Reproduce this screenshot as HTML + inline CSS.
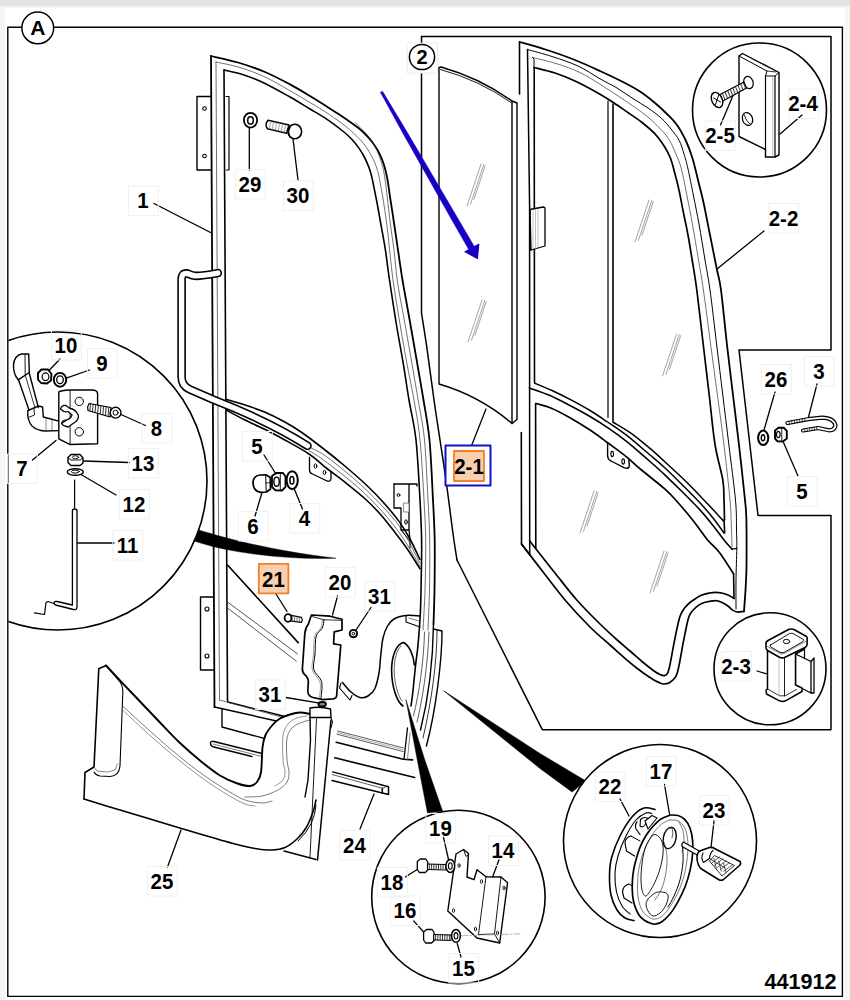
<!DOCTYPE html>
<html><head><meta charset="utf-8"><title>441912</title>
<style>
html,body{margin:0;padding:0;background:#fff;}
body{width:850px;height:1000px;overflow:hidden;font-family:"Liberation Sans",sans-serif;}
svg{display:block;}
svg text{font-family:"Liberation Sans",sans-serif;font-weight:bold;fill:#000;}
</style></head><body>
<svg width="850" height="1000" viewBox="0 0 850 1000" stroke-linecap="round" stroke-linejoin="round">
<rect x="0" y="0" width="850" height="1000" fill="#fff"/>
<rect x="0" y="0" width="850" height="6" fill="#e4e4e4"/>
<rect x="0" y="6" width="850" height="1.5" fill="#efefef"/>
<rect x="0" y="7.5" width="5.3" height="993" fill="#f5f5f5"/>
<rect x="844.5" y="7.5" width="6" height="993" fill="#f5f5f5"/>
<rect x="7.8" y="27.3" width="834.6" height="969.1" fill="none" stroke="#000" stroke-width="1.4"/>
<path d="M421.5,36.6 L831.0,36.6 L831.0,350.0 L739.0,350.0 L758.0,515.5 L831.0,515.5 L831.0,729.7 L542.3,729.7 L457.0,560.0" fill="none" stroke="#000" stroke-width="1.5" />
<path d="M457.0,560.0 C456.2,555.0 454.3,543.3 452.5,530.0 C450.7,516.7 448.1,495.0 446.0,480.0 C443.9,465.0 442.0,453.3 440.0,440.0 C438.0,426.7 436.2,415.8 434.0,400.0 C431.8,384.2 428.6,359.5 426.5,345.0 C424.4,330.5 422.3,318.3 421.5,313.0 L421.5,36.6" fill="none" stroke="#000" stroke-width="1.5" />
<path d="M211.0,56.0 C215.5,57.1 229.0,59.8 238.0,62.5 C247.0,65.2 256.3,68.3 265.0,72.0 C273.7,75.7 282.5,80.4 290.0,84.4 C297.5,88.4 304.0,92.4 310.0,96.0 C316.0,99.6 321.0,102.8 326.0,106.0 C331.0,109.2 335.5,112.0 340.0,115.0 C344.5,118.0 349.3,121.3 353.0,124.0 C356.7,126.7 359.3,128.6 362.0,131.0 C364.7,133.4 367.0,135.9 369.2,138.4 C371.4,140.9 373.2,143.3 375.0,146.0 C376.8,148.7 378.5,151.4 380.0,154.6 C381.5,157.8 382.8,161.1 384.0,165.0 C385.2,168.9 386.1,172.2 387.2,178.0 C388.3,183.8 389.3,192.2 390.5,200.0 C391.7,207.8 393.1,216.7 394.3,225.0 C395.6,233.3 396.6,240.8 398.0,250.0 C399.4,259.2 400.5,268.0 402.5,280.0 C404.5,292.0 407.6,308.3 410.0,322.0 C412.4,335.7 414.8,349.0 417.0,362.0 C419.2,375.0 421.4,387.0 423.5,400.0 C425.6,413.0 427.9,423.3 429.5,440.0 C431.1,456.7 432.1,483.3 433.0,500.0 C433.9,516.7 434.4,525.0 434.7,540.0 C434.9,555.0 434.7,576.0 434.5,590.0 C434.3,604.0 433.7,618.3 433.5,624.0" fill="none" stroke="#000" stroke-width="1.8" />
<path d="M211.0,56.0 L214.5,707.0" fill="none" stroke="#000" stroke-width="1.8" />
<path d="M216.0,62.0 C220.0,62.9 231.8,65.0 240.0,67.5 C248.2,70.0 256.7,73.1 265.0,77.0 C273.3,80.9 282.5,86.5 290.0,90.7 C297.5,95.0 304.0,98.9 310.0,102.5 C316.0,106.1 321.0,109.0 326.0,112.3 C331.0,115.5 336.1,119.2 340.0,122.0 C343.9,124.8 346.6,127.0 349.4,129.4 C352.2,131.8 354.6,134.1 357.0,136.5 C359.4,138.9 361.8,141.3 363.8,143.8 C365.8,146.3 367.4,148.8 369.0,151.5 C370.6,154.2 372.3,156.8 373.7,160.0 C375.1,163.2 376.4,166.9 377.5,170.5 C378.6,174.1 378.9,175.8 380.0,181.6 C381.1,187.3 382.8,196.9 384.0,205.0 C385.2,213.1 386.0,217.5 387.5,230.0 C389.0,242.5 390.9,264.3 393.0,280.0 C395.1,295.7 397.7,310.0 400.0,324.0 C402.3,338.0 404.7,351.3 407.0,364.0 C409.3,376.7 411.8,387.3 414.0,400.0 C416.2,412.7 418.3,423.3 420.0,440.0 C421.7,456.7 423.1,483.3 424.0,500.0 C424.9,516.7 425.5,525.0 425.7,540.0 C425.9,555.0 425.4,575.0 425.0,590.0 C424.6,605.0 423.3,623.3 423.0,630.0" fill="none" stroke="#333" stroke-width="0.7" />
<path d="M216.0,62.0 L219.5,700.0" fill="none" stroke="#333" stroke-width="0.7" />
<path d="M355.0,122.5 C356.2,123.7 359.7,127.0 362.0,129.4 C364.3,131.8 366.9,134.3 369.0,137.0 C371.1,139.7 372.9,142.3 374.6,145.6 C376.4,148.9 378.0,152.8 379.5,157.0 C381.0,161.2 382.4,164.5 383.6,170.8 C384.9,177.1 385.9,186.0 387.0,195.0 C388.1,204.0 389.3,215.8 390.5,225.0 C391.7,234.2 392.8,240.5 394.0,250.0 C395.2,259.5 395.7,269.7 397.5,282.0 C399.3,294.3 402.6,310.3 405.0,324.0 C407.4,337.7 409.8,351.0 412.0,364.0 C414.2,377.0 416.4,389.3 418.5,402.0 C420.6,414.7 422.9,423.7 424.5,440.0 C426.1,456.3 427.1,483.3 428.0,500.0 C428.9,516.7 429.4,525.0 429.7,540.0 C429.9,555.0 429.8,575.0 429.5,590.0 C429.2,605.0 428.2,623.3 428.0,630.0" fill="none" stroke="#333" stroke-width="0.7" />
<path d="M224.0,70.0 C227.3,70.8 237.3,72.8 244.0,75.0 C250.7,77.2 256.3,79.3 264.0,83.0 C271.7,86.7 282.3,92.7 290.0,97.0 C297.7,101.3 304.0,105.4 310.0,109.0 C316.0,112.6 320.3,114.8 326.0,118.6 C331.7,122.4 339.7,128.5 344.0,132.0 C348.3,135.5 349.6,136.9 352.0,139.5 C354.4,142.1 356.5,144.7 358.4,147.4 C360.3,150.1 362.0,152.8 363.5,155.5 C365.0,158.2 366.2,160.8 367.4,163.6 C368.6,166.3 369.6,169.0 370.5,172.0 C371.4,175.0 371.8,176.9 372.8,181.6 C373.8,186.3 375.1,192.8 376.5,200.0 C377.9,207.2 379.5,216.7 381.0,225.0 C382.5,233.3 384.0,240.8 385.4,250.0 C386.8,259.2 387.7,268.0 389.5,280.0 C391.3,292.0 393.8,308.3 396.0,322.0 C398.2,335.7 400.8,349.0 403.0,362.0 C405.2,375.0 406.8,387.0 409.0,400.0 C411.2,413.0 414.2,423.3 416.0,440.0 C417.8,456.7 419.1,483.3 420.0,500.0 C420.9,516.7 421.4,526.7 421.6,540.0 C421.8,553.3 421.4,568.0 421.2,580.0 C421.0,592.0 420.9,601.2 420.4,612.0 C419.9,622.8 418.8,636.2 418.0,645.0 C417.2,653.8 416.5,656.7 415.6,665.0 C414.7,673.3 413.3,688.2 412.5,695.0 C411.7,701.8 411.2,704.2 411.0,706.0" fill="none" stroke="#000" stroke-width="1.6" />
<path d="M224.0,70.0 L227.5,700.0" fill="none" stroke="#000" stroke-width="1.6" />
<path d="M211.0,96.5 L197.0,96.5 L197.0,170.0 L211.5,170.0" fill="none" stroke="#000" stroke-width="1.4" />
<path d="M226.0,96.5 L229.0,96.5 L229.0,170.0 L226.5,170.0" fill="none" stroke="#000" stroke-width="1.2" />
<circle cx="204.5" cy="108.5" r="1.8" fill="none" stroke="#000" stroke-width="1.1"/>
<circle cx="204.5" cy="156.0" r="1.8" fill="none" stroke="#000" stroke-width="1.1"/>
<path d="M214.0,597.0 L200.5,597.0 L200.5,670.0 L214.3,670.0" fill="none" stroke="#000" stroke-width="1.4" />
<circle cx="207.0" cy="609.0" r="2.0" fill="none" stroke="#000" stroke-width="1.1"/>
<circle cx="207.0" cy="656.0" r="2.0" fill="none" stroke="#000" stroke-width="1.1"/>
<path d="M226.5,399.5 C229.6,400.4 238.8,402.9 245.0,405.0 C251.2,407.1 257.7,409.1 264.0,411.8 C270.3,414.5 276.7,417.6 283.0,421.0 C289.3,424.4 294.4,427.3 301.8,432.5 C309.2,437.7 320.2,446.2 327.6,452.0 C335.0,457.8 339.7,461.7 346.0,467.0 C352.3,472.3 359.1,478.2 365.3,484.0 C371.5,489.8 377.4,495.7 383.0,502.0 C388.6,508.3 394.7,515.4 399.2,521.6 C403.7,527.8 406.6,532.7 410.0,539.0 C413.4,545.3 418.2,555.9 419.9,559.3" fill="none" stroke="#000" stroke-width="1.6" />
<path d="M227.0,410.5 C230.0,412.1 238.8,416.9 245.0,420.0 C251.2,423.1 257.7,425.8 264.0,429.0 C270.3,432.2 275.5,434.8 283.0,439.0 C290.5,443.2 301.6,449.0 309.0,454.0 C316.4,459.0 321.4,464.2 327.6,469.0 C333.8,473.8 339.7,478.0 346.0,483.0 C352.3,488.0 359.5,493.7 365.3,499.0 C371.1,504.3 376.0,509.3 381.0,515.0 C386.0,520.7 390.9,527.2 395.4,533.0 C399.9,538.8 403.9,544.0 408.0,550.0 C412.1,556.0 417.9,565.6 419.9,568.7" fill="none" stroke="#000" stroke-width="1.6" />
<path d="M309.0,447.0 C312.1,448.8 318.2,450.5 327.6,457.5 C337.0,464.5 353.4,477.6 365.3,489.0 C377.2,500.4 390.1,513.7 399.2,526.0 C408.3,538.3 416.4,556.8 419.9,563.0" fill="none" stroke="#333" stroke-width="0.7" />
<path d="M309.0,450.5 C312.1,452.6 318.2,455.8 327.6,463.0 C337.0,470.2 353.7,482.9 365.3,494.0 C376.9,505.1 387.9,517.5 397.0,529.5 C406.1,541.5 416.1,559.9 419.9,566.0" fill="none" stroke="#333" stroke-width="0.7" />
<path d="M217.8,273.1 C210,274.5 200,276.3 194.7,275.8 C190.5,275.4 189,273.5 186.5,273.4 Q181.6,273.4 181.6,279 L181.6,377 Q181.6,386 190,389.5 L213,399.5 C245,412 275,425 307.5,445.8" fill="none" stroke="#000" stroke-width="8.6" stroke-linecap="round"/>
<path d="M217.8,273.1 C210,274.5 200,276.3 194.7,275.8 C190.5,275.4 189,273.5 186.5,273.4 Q181.6,273.4 181.6,279 L181.6,377 Q181.6,386 190,389.5 L213,399.5 C245,412 275,425 307.5,445.8" fill="none" stroke="#fff" stroke-width="5.4" stroke-linecap="round"/>
<path d="M309.5,457.5 L309.5,470 Q309.5,473 312.5,474 L327,481 Q331,482 331,478 L331,472" fill="none" stroke="#000" stroke-width="1.3" />
<ellipse cx="315.5" cy="466.0" rx="1.3" ry="2.2" fill="none" stroke="#000" stroke-width="1"/>
<ellipse cx="324.5" cy="472.5" rx="1.3" ry="2.2" fill="none" stroke="#000" stroke-width="1"/>
<path d="M394.0,484.0 L417.0,484.0 L417.0,486.0" fill="none" stroke="#000" stroke-width="1.3" />
<path d="M394.0,484.0 L394.0,508.0 L401.0,508.0 L401.0,530.0 L409.0,530.0 L409.0,484.5" fill="none" stroke="#000" stroke-width="1.3" />
<path d="M409.0,530.0 L410.0,539.0" fill="none" stroke="#000" stroke-width="1.2" />
<path d="M401.0,530.0 L410.0,541.0 L410.0,548.0" fill="none" stroke="#000" stroke-width="1.0" />
<circle cx="398.5" cy="495.0" r="1.4" fill="none" stroke="#000" stroke-width="1"/>
<ellipse cx="406.0" cy="522.0" rx="1.3" ry="2.2" fill="none" stroke="#000" stroke-width="1"/>
<rect x="404" y="503" width="5" height="9" fill="#fff" stroke="#555" stroke-width="0.7"/>
<clipPath id="clipL"><rect x="8.4" y="300" width="220" height="360"/></clipPath>
<circle cx="58" cy="481" r="149" fill="none" stroke="#000" stroke-width="1.6" clip-path="url(#clipL)"/>
<path d="M199,530 C225,538 270,550.5 336,558.2 C290,560 230,553.5 194,541 Z" fill="#000" stroke="#000" stroke-width="0.4" />
<ellipse cx="250.5" cy="120.2" rx="6.6" ry="7.4" fill="none" stroke="#000" stroke-width="1.8"/>
<ellipse cx="250.5" cy="120.4" rx="2.8" ry="3.7" fill="none" stroke="#000" stroke-width="1.5"/>
<line x1="249.3" y1="128.5" x2="249.3" y2="170.0" stroke="#000" stroke-width="1.3"/>
<path d="M268,120.3 L289,125 L286.5,133.2 L267.5,128.8 Q264.3,124.5 268,120.3 Z" fill="#fff" stroke="#000" stroke-width="1.5" />
<line x1="270.5" y1="121.6" x2="269.3" y2="128.6" stroke="#999" stroke-width="0.9"/>
<line x1="273.5" y1="122.3" x2="272.3" y2="129.3" stroke="#999" stroke-width="0.9"/>
<line x1="276.5" y1="123.0" x2="275.3" y2="130.0" stroke="#999" stroke-width="0.9"/>
<line x1="279.5" y1="123.6" x2="278.3" y2="130.7" stroke="#999" stroke-width="0.9"/>
<line x1="282.5" y1="124.3" x2="281.3" y2="131.4" stroke="#999" stroke-width="0.9"/>
<line x1="285.5" y1="125.0" x2="284.3" y2="132.1" stroke="#999" stroke-width="0.9"/>
<ellipse cx="294.8" cy="131.5" rx="6.8" ry="7.3" fill="#fff" stroke="#000" stroke-width="1.6"/>
<path d="M290.5,126 Q287.3,131 289.5,137" fill="none" stroke="#000" stroke-width="1.0" />
<line x1="293.0" y1="139.0" x2="298.0" y2="180.0" stroke="#000" stroke-width="1.3"/>
<line x1="154.0" y1="203.5" x2="210.5" y2="232.5" stroke="#000" stroke-width="1.4"/>
<path d="M21.4,354 L28.7,354 L29.3,372.5 L18.2,379.8 Q13.2,374 13.5,365 Q14,356 21.4,354 Z" fill="#fff" stroke="#000" stroke-width="1.4" />
<path d="M25.0,354.5 L25.2,375.0" fill="none" stroke="#000" stroke-width="0.9" />
<path d="M18.6,380.0 L29.0,410.0" fill="none" stroke="#000" stroke-width="1.4" />
<path d="M29.2,373.0 L38.4,407.5" fill="none" stroke="#000" stroke-width="1.4" />
<path d="M25.5,376.0 L35.0,408.0" fill="none" stroke="#000" stroke-width="0.8" />
<path d="M27.8,410.6 L38.4,406 L42.6,407 L43.3,417 L61.6,421.9" fill="none" stroke="#000" stroke-width="1.4" />
<path d="M27.8,410.6 Q27,420 32,426 Q37,430.5 44.7,431 L58.8,430.6" fill="none" stroke="#000" stroke-width="1.4" />
<path d="M34.0,409.0 L34.5,415.0 L29.5,417.0" fill="none" stroke="#000" stroke-width="0.9" />
<line x1="46.0" y1="419.0" x2="46.0" y2="431.0" stroke="#555" stroke-width="0.7"/>
<line x1="52.0" y1="420.5" x2="52.0" y2="431.0" stroke="#555" stroke-width="0.7"/>
<path d="M58.8,392 Q60,390.5 70.1,390 L93,390 Q97.6,390.5 97.6,394 L97.6,443.8 L70.1,444.5 L58.8,438.8 Z" fill="#fff" stroke="#000" stroke-width="1.4" />
<path d="M70.1,390.5 L70.1,444.5" fill="none" stroke="#000" stroke-width="0.9" />
<circle cx="79.3" cy="401.4" r="4.2" fill="none" stroke="#000" stroke-width="1.0"/>
<circle cx="79.3" cy="431.8" r="4.2" fill="none" stroke="#000" stroke-width="1.0"/>
<path d="M60.5,409 Q62,404.5 66,405.5 L70,408.5 Q75,409 78,414.5 Q79.5,418 76,421.5 L68,427 Q63.5,426.5 61.5,423.5 L66.5,420 Q71,418.5 72,415 L68,411.5 Q64.5,413 60.5,409 Z" fill="#fff" stroke="#000" stroke-width="1.3" />
<path d="M61.5,423.5 Q62,420 66.5,420" fill="none" stroke="#000" stroke-width="1.1" />
<path d="M89,403.5 L111,407.5 L110,417 L88,410.5 Q87,406.5 89,403.5 Z" fill="#fff" stroke="#000" stroke-width="1.2" />
<line x1="90.5" y1="404.0" x2="89.9" y2="410.8" stroke="#000" stroke-width="0.8"/>
<line x1="93.1" y1="404.5" x2="92.5" y2="411.6" stroke="#000" stroke-width="0.8"/>
<line x1="95.7" y1="405.0" x2="95.1" y2="412.3" stroke="#000" stroke-width="0.8"/>
<line x1="98.3" y1="405.5" x2="97.7" y2="413.1" stroke="#000" stroke-width="0.8"/>
<line x1="100.9" y1="406.0" x2="100.3" y2="413.8" stroke="#000" stroke-width="0.8"/>
<line x1="103.5" y1="406.5" x2="102.9" y2="414.6" stroke="#000" stroke-width="0.8"/>
<line x1="106.1" y1="407.0" x2="105.5" y2="415.3" stroke="#000" stroke-width="0.8"/>
<line x1="108.7" y1="407.5" x2="108.1" y2="416.1" stroke="#000" stroke-width="0.8"/>
<circle cx="115.6" cy="412.7" r="5.4" fill="#fff" stroke="#000" stroke-width="1.4"/>
<circle cx="115.6" cy="412.7" r="2.5" fill="none" stroke="#000" stroke-width="1"/>
<path d="M38,373 L41.5,369.5 L48,369.5 L51.5,374 L51,380.5 L47,383.5 L41,383 L38,379.5 Z" fill="#fff" stroke="#000" stroke-width="1.9" />
<ellipse cx="45.5" cy="376.8" rx="3.4" ry="3.9" fill="none" stroke="#000" stroke-width="1.2"/>
<ellipse cx="60.0" cy="379.8" rx="6.2" ry="6.9" fill="#fff" stroke="#000" stroke-width="1.9"/>
<ellipse cx="60.0" cy="379.8" rx="3.3" ry="3.9" fill="none" stroke="#000" stroke-width="1.3"/>
<path d="M68,457.5 L71,454.5 L80,454.5 L83,458 L83,463 L80,465.5 L71,465.5 L68,462.5 Z" fill="#fff" stroke="#000" stroke-width="1.4" />
<path d="M68.0,458.0 L71.0,460.0 L80.0,460.0 L83.0,458.0" fill="none" stroke="#000" stroke-width="0.9" />
<ellipse cx="75.5" cy="457.3" rx="3.2" ry="1.5" fill="none" stroke="#000" stroke-width="0.9"/>
<ellipse cx="75.3" cy="472.0" rx="8.0" ry="3.3" fill="#fff" stroke="#000" stroke-width="1.4"/>
<ellipse cx="75.3" cy="471.6" rx="4.0" ry="1.5" fill="none" stroke="#000" stroke-width="1.0"/>
<line x1="74.6" y1="480.0" x2="74.6" y2="508.0" stroke="#000" stroke-width="1.2"/>
<path d="M72.4,605 L72.4,511 Q72.4,509 74.7,509 Q77,509 77,511 L77,606.5 Q77,610.5 73.5,609.5 L55.5,605 Q53.5,604 54.3,602.3 Q55,601 57,601.5 L72.4,605" fill="#fff" stroke="#000" stroke-width="1.3" />
<path d="M54.0,603.5 L48.0,601.5 L46.0,602.5 L44.5,614.5 L34.5,612.8" fill="none" stroke="#000" stroke-width="1.2" />
<line x1="60.0" y1="359.0" x2="49.5" y2="370.0" stroke="#000" stroke-width="1.3"/>
<line x1="89.5" y1="370.0" x2="67.0" y2="377.8" stroke="#000" stroke-width="1.3"/>
<line x1="145.5" y1="425.5" x2="121.0" y2="414.5" stroke="#000" stroke-width="1.3"/>
<line x1="129.0" y1="462.5" x2="84.0" y2="461.0" stroke="#000" stroke-width="1.3"/>
<line x1="116.0" y1="495.0" x2="81.0" y2="474.5" stroke="#000" stroke-width="1.3"/>
<line x1="114.0" y1="543.0" x2="77.5" y2="543.0" stroke="#000" stroke-width="1.3"/>
<line x1="32.5" y1="460.0" x2="56.0" y2="440.5" stroke="#000" stroke-width="1.3"/>
<path d="M253,483 Q253,476 260,475 L266,474.8 L270.3,477.5 L270.5,489 L266.5,492 L261,492.3 Q253.5,491.5 253,483 Z" fill="#fff" stroke="#000" stroke-width="1.7" />
<path d="M265.7,475.0 L266.2,492.0" fill="none" stroke="#000" stroke-width="1.0" />
<path d="M266.0,483.0 L270.4,482.5" fill="none" stroke="#000" stroke-width="0.8" />
<path d="M272,476 L276,473 L283,473 L285.5,476.5 L285.5,487 L282,490.5 L275.5,490.3 L272,487 Z" fill="#fff" stroke="#000" stroke-width="1.8" />
<ellipse cx="276.6" cy="481.7" rx="2.7" ry="4.6" fill="none" stroke="#000" stroke-width="1.4"/>
<path d="M280.3,473.5 L280.3,490.3" fill="none" stroke="#000" stroke-width="0.9" />
<ellipse cx="292.2" cy="480.2" rx="5.6" ry="9.0" fill="#fff" stroke="#000" stroke-width="2.0"/>
<ellipse cx="291.9" cy="480.2" rx="2.0" ry="3.8" fill="none" stroke="#000" stroke-width="1.5"/>
<line x1="264.0" y1="455.0" x2="276.0" y2="474.0" stroke="#000" stroke-width="1.3"/>
<line x1="294.5" y1="489.5" x2="302.5" y2="509.0" stroke="#000" stroke-width="1.3"/>
<line x1="262.0" y1="492.5" x2="255.0" y2="516.0" stroke="#000" stroke-width="1.3"/>
<path d="M227.5,565.0 L298.2,642.6" fill="none" stroke="#000" stroke-width="1.6" />
<path d="M227.5,602.0 L297.6,654.0" fill="none" stroke="#444" stroke-width="0.9" />
<path d="M227.5,608.0 L296.4,661.2" fill="none" stroke="#444" stroke-width="0.9" />
<path d="M227.5,700.0 L227.8,702.0 L283.0,716.0" fill="none" stroke="#000" stroke-width="1.4" />
<path d="M219.5,700.0 L283.0,717.5" fill="none" stroke="#333" stroke-width="0.7" />
<path d="M214.5,707.0 L290.0,724.0" fill="none" stroke="#000" stroke-width="1.5" />
<path d="M222.0,709.5 L222.0,727.0 L272.0,740.5" fill="none" stroke="#000" stroke-width="1.4" />
<path d="M268,755 L214,741.5 Q210,740.5 210.5,744 Q211,746.5 214,747 L252,756.5" fill="none" stroke="#000" stroke-width="1.3" />
<path d="M213.0,744.0 L262.0,756.5" fill="none" stroke="#444" stroke-width="0.7" />
<path d="M337.6,731.0 L403.3,747.9" fill="none" stroke="#333" stroke-width="0.8" />
<path d="M337.3,732.6 L403.3,749.7" fill="none" stroke="#777" stroke-width="0.6" />
<path d="M337.0,734.2 L403.3,751.6" fill="none" stroke="#333" stroke-width="0.8" />
<path d="M336.2,742.2 L403.3,759.2 L412.5,759.9" fill="none" stroke="#000" stroke-width="1.6" />
<path d="M334.8,757.8 L414.6,777.5" fill="none" stroke="#000" stroke-width="1.6" />
<path d="M407.5,728.0 L404.0,759.0" fill="none" stroke="#000" stroke-width="1.3" />
<path d="M410.0,733.0 L407.5,759.5" fill="none" stroke="#555" stroke-width="0.7" />
<path d="M420.0,616.0 C417.7,615.9 410.3,615.0 406.0,615.5 C401.7,616.0 397.1,617.2 394.0,619.0 C390.9,620.8 389.3,622.8 387.5,626.0 C385.7,629.2 384.1,633.2 383.0,638.0 C381.9,642.8 381.5,649.2 380.8,655.0 C380.1,660.8 380.0,667.4 379.0,673.0 C378.0,678.6 376.6,684.9 374.8,688.7 C373.0,692.5 370.5,694.5 368.0,696.0 C365.5,697.5 362.8,698.2 360.0,697.5 C357.2,696.8 353.9,694.5 351.0,692.0 C348.1,689.5 343.9,684.1 342.5,682.5" fill="none" stroke="#000" stroke-width="1.5" />
<path d="M406.0,615.5 L406.0,622.0 L420.0,627.0" fill="none" stroke="#000" stroke-width="1.1" />
<path d="M409.0,618.0 L420.0,621.5" fill="none" stroke="#444" stroke-width="0.7" />
<path d="M341.0,683.0 L339.5,688.0 L350.0,700.0 L352.0,695.5" fill="none" stroke="#000" stroke-width="1.1" />
<path d="M403.6,642.5 C396,644 391.5,657 391.6,671 C392,688 397,702 403,706" fill="none" stroke="#000" stroke-width="1.6" />
<path d="M403.6,642.5 C409,645 413.5,655 414.4,665" fill="none" stroke="#000" stroke-width="1.6" />
<path d="M401,646 C396.5,650 394,660 394.2,671 C394.6,685 398.5,697 402,701" fill="none" stroke="#333" stroke-width="0.8" />
<path d="M433.5,629 L442,631 C442,660 436,710 426.4,746" fill="none" stroke="#000" stroke-width="1.4" />
<path d="M437,630.5 C437,660 432,700 423,738" fill="none" stroke="#000" stroke-width="0.8" />
<path d="M433.5,624 C433,660 428,700 420.5,730" fill="none" stroke="#000" stroke-width="1.4" />
<path d="M429,632 C428,662 423,698 417,722" fill="none" stroke="#333" stroke-width="0.8" />
<path d="M424.5,632 C424,660 419,694 413.5,716" fill="none" stroke="#333" stroke-width="0.8" />
<path d="M406.0,700.0 L417.3,760.0 L427.5,813.0 L442.5,811.0 L424.8,760.0 Z" fill="#000" stroke="#000" stroke-width="0.5" />
<path d="M444.0,691.0 L540.0,753.5 L586.0,781.0 L572.0,792.0 L540.0,768.5 Z" fill="#000" stroke="#000" stroke-width="0.5" />
<path d="M311.4,615 L330,616.2 L342,619.2 L342,630 L334.2,631.8 L333.6,643.8 L340.8,645 L336.6,696 Q336.3,698.6 333,698.9 L322.8,699.6 L313,697.5 Q308,696 307.8,691.2 L308.4,681.6 Q308,677 304.5,674.5 Q302,672 302.4,668 L303,660 L304.8,633.6 Q305.5,627.5 308.4,624 Z" fill="#fff" stroke="#000" stroke-width="1.7" />
<path d="M324.0,619.8 C323.7,621.2 323.5,625.5 322.2,628.2 C320.9,630.9 317.4,631.7 316.2,636.0 C315.0,640.3 315.4,648.4 315.0,654.0 C314.6,659.6 312.7,665.0 313.8,669.6 C314.9,674.2 320.4,676.8 321.6,681.6 C322.8,686.4 321.1,695.6 321.0,698.4" fill="none" stroke="#000" stroke-width="1.0" />
<path d="M322.5,619.5 C322.2,620.9 322.0,625.3 320.7,628.0 C319.4,630.7 315.9,631.5 314.7,635.8 C313.5,640.1 313.9,648.3 313.5,654.0 C313.1,659.7 311.2,665.3 312.3,670.0 C313.4,674.7 318.8,677.3 320.0,682.0 C321.2,686.7 319.6,695.3 319.5,698.0" fill="none" stroke="#777" stroke-width="0.7" />
<path d="M312.0,616.5 L324.0,619.8 L341.5,620.3" fill="none" stroke="#000" stroke-width="0.8" />
<path d="M290,615.2 L301.5,617.3 Q303,620 301.5,622.3 L290,620.8 Z" fill="#fff" stroke="#000" stroke-width="1.2" />
<line x1="292.3" y1="616.0" x2="292.1" y2="620.8" stroke="#555" stroke-width="0.8"/>
<line x1="294.7" y1="616.5" x2="294.5" y2="621.1" stroke="#555" stroke-width="0.8"/>
<line x1="297.1" y1="616.9" x2="296.9" y2="621.4" stroke="#555" stroke-width="0.8"/>
<line x1="299.5" y1="617.4" x2="299.3" y2="621.7" stroke="#555" stroke-width="0.8"/>
<ellipse cx="288.0" cy="618.0" rx="3.4" ry="3.8" fill="#fff" stroke="#000" stroke-width="1.8"/>
<circle cx="353.4" cy="633.6" r="3.7" fill="#fff" stroke="#000" stroke-width="1.9"/>
<circle cx="353.4" cy="633.6" r="1.3" fill="none" stroke="#000" stroke-width="1.0"/>
<ellipse cx="322.2" cy="704.2" rx="3.8" ry="2.2" fill="#888" stroke="#000" stroke-width="1.8"/>
<line x1="276.0" y1="594.0" x2="287.0" y2="611.5" stroke="#000" stroke-width="1.3"/>
<line x1="337.5" y1="596.0" x2="332.5" y2="615.0" stroke="#000" stroke-width="1.3"/>
<line x1="371.0" y1="607.5" x2="356.0" y2="630.0" stroke="#000" stroke-width="1.3"/>
<line x1="286.0" y1="697.5" x2="318.0" y2="702.8" stroke="#000" stroke-width="1.3"/>
<path d="M106.0,665.5 C110.0,669.8 121.0,681.5 130.0,691.0 C139.0,700.5 151.7,713.8 160.0,722.5 C168.3,731.2 173.3,736.7 180.0,743.0 C186.7,749.3 193.3,755.1 200.0,760.5 C206.7,765.9 213.8,771.7 220.0,775.5 C226.2,779.3 232.5,781.8 237.5,783.5 C242.5,785.2 246.8,786.2 250.0,786.0 C253.2,785.8 255.2,784.2 257.0,782.0 C258.8,779.8 260.1,778.2 261.0,772.5 C261.9,766.8 261.8,753.8 262.5,747.5 C263.2,741.2 263.8,738.8 265.5,735.0 C267.2,731.2 270.1,727.8 272.5,725.0 C274.9,722.2 277.1,720.2 280.0,718.5 C282.9,716.8 286.7,715.5 290.0,714.5 C293.3,713.5 296.7,712.6 300.0,712.5 C303.3,712.4 308.3,713.8 310.0,714.0 L310,708 L330.5,709 L331,720 L317.5,860 L284,851 L272,850 L255,848.5 L235,844 L200,834 L160,822 L120,810 L84,799 L85,772.5 L94,767 L98.8,668.8 Z" fill="#fff" stroke="none"/>
<path d="M106.0,665.5 C110.0,669.8 121.0,681.5 130.0,691.0 C139.0,700.5 151.7,713.8 160.0,722.5 C168.3,731.2 173.3,736.7 180.0,743.0 C186.7,749.3 193.3,755.1 200.0,760.5 C206.7,765.9 213.8,771.7 220.0,775.5 C226.2,779.3 232.5,781.8 237.5,783.5 C242.5,785.2 246.8,786.2 250.0,786.0 C253.2,785.8 255.2,784.2 257.0,782.0 C258.8,779.8 260.1,778.2 261.0,772.5 C261.9,766.8 261.8,753.8 262.5,747.5 C263.2,741.2 263.8,738.8 265.5,735.0 C267.2,731.2 270.1,727.8 272.5,725.0 C274.9,722.2 277.1,720.2 280.0,718.5 C282.9,716.8 286.7,715.5 290.0,714.5 C293.3,713.5 296.7,712.6 300.0,712.5 C303.3,712.4 308.3,713.8 310.0,714.0" fill="none" stroke="#000" stroke-width="1.9" />
<path d="M106.0,665.5 L98.8,668.8 L94.0,767.0 L85.0,772.5 L84.0,799.0" fill="none" stroke="#000" stroke-width="1.6" />
<path d="M84.0,799.0 C90.0,800.8 107.3,806.2 120.0,810.0 C132.7,813.8 146.7,818.0 160.0,822.0 C173.3,826.0 187.5,830.3 200.0,834.0 C212.5,837.7 225.8,841.6 235.0,844.0 C244.2,846.4 248.8,847.5 255.0,848.5 C261.2,849.5 267.0,850.2 272.0,850.0 C277.0,849.8 280.8,849.3 285.0,847.5 C289.2,845.7 293.5,842.2 297.0,839.0 C300.5,835.8 303.3,832.5 306.0,828.0 C308.7,823.5 311.3,816.7 313.0,812.0 C314.7,807.3 315.5,802.0 316.0,800.0" fill="none" stroke="#000" stroke-width="1.6" />
<path d="M284.0,851.0 L316.0,859.5" fill="none" stroke="#000" stroke-width="1.4" />
<path d="M106.5,666 L120,682 Q123,686 122.8,693 L120,766 Q119,776 110,776.5 L100,776 Q96,775.5 94,772" fill="none" stroke="#000" stroke-width="1.1" />
<path d="M94.0,767.0 L97.0,771.0 L108.0,772.0 L115.0,770.0 L117.5,764.0" fill="none" stroke="#555" stroke-width="0.7" />
<path d="M122.5,706.0 C127.1,710.2 140.4,722.5 150.0,731.0 C159.6,739.5 170.8,749.5 180.0,757.0 C189.2,764.5 197.0,770.3 205.0,776.0 C213.0,781.7 221.3,787.0 228.0,791.0 C234.7,795.0 239.3,798.0 245.0,800.0 C250.7,802.0 257.5,802.8 262.0,803.0 C266.5,803.2 270.3,801.3 272.0,801.0" fill="none" stroke="#444" stroke-width="0.7" />
<path d="M122.5,710.0 C127.1,714.2 140.4,727.0 150.0,735.5 C159.6,744.0 170.8,753.6 180.0,761.0 C189.2,768.4 197.0,774.3 205.0,780.0 C213.0,785.7 221.3,791.0 228.0,795.0 C234.7,799.0 240.5,802.2 245.0,804.0 C249.5,805.8 253.3,805.7 255.0,806.0" fill="none" stroke="#666" stroke-width="0.7" />
<path d="M310.0,720.0 C308.8,720.3 305.8,720.8 303.0,722.0 C300.2,723.2 295.7,724.3 293.0,727.0 C290.3,729.7 288.0,732.5 287.0,738.0 C286.0,743.5 286.7,754.3 287.0,760.0 C287.3,765.7 289.0,768.3 289.0,772.0 C289.0,775.7 288.8,779.0 287.0,782.0 C285.2,785.0 282.2,787.7 278.0,790.0 C273.8,792.3 267.5,794.8 262.0,796.0 C256.5,797.2 247.8,796.8 245.0,797.0" fill="none" stroke="#444" stroke-width="0.7" />
<path d="M307.0,716.0 C305.3,716.3 300.2,716.7 297.0,718.0 C293.8,719.3 290.3,721.0 288.0,724.0 C285.7,727.0 283.8,730.0 283.0,736.0 C282.2,742.0 282.7,754.0 283.0,760.0 C283.3,766.0 285.0,768.7 285.0,772.0 C285.0,775.3 284.7,777.7 283.0,780.0 C281.3,782.3 276.3,785.0 275.0,786.0" fill="none" stroke="#666" stroke-width="0.7" />
<path d="M310,708 Q320,706 330.5,709 L331,717.5 L310,717.5 Z" fill="#fff" stroke="#000" stroke-width="1.4" />
<path d="M310.0,717.5 L310.5,740.0 L308.0,780.0 L305.0,797.0" fill="none" stroke="#000" stroke-width="1.4" />
<path d="M331.0,720.0 L317.5,860.0" fill="none" stroke="#000" stroke-width="1.5" />
<path d="M316.5,719.0 L310.0,857.5" fill="none" stroke="#000" stroke-width="0.9" />
<path d="M331.0,717.5 L332.5,722.0 L331.0,728.0" fill="none" stroke="#000" stroke-width="1.0" />
<path d="M316,805 Q315,825 298,841" fill="none" stroke="#000" stroke-width="1.0" />
<line x1="181.0" y1="830.0" x2="167.5" y2="867.0" stroke="#000" stroke-width="1.3"/>
<path d="M332.7,771.9 L388.5,786.7 L388.5,794.5 L382.3,793.0 L382.3,788.2" fill="none" stroke="#000" stroke-width="1.5" />
<path d="M332.0,780.4 L382.3,793.0" fill="none" stroke="#000" stroke-width="1.5" />
<path d="M332.3,774.6 L382.3,788.2 L385.0,787.5" fill="none" stroke="#333" stroke-width="0.8" />
<line x1="374.0" y1="794.0" x2="360.0" y2="829.0" stroke="#000" stroke-width="1.3"/>
<path d="M519.5,42.0 C524.1,43.3 537.8,47.0 547.0,50.0 C556.2,53.0 566.2,56.5 575.0,60.0 C583.8,63.5 592.2,67.4 600.0,71.0 C607.8,74.6 615.3,78.1 622.0,81.5 C628.7,84.9 634.5,87.9 640.0,91.5 C645.5,95.1 650.5,99.2 655.0,103.0 C659.5,106.8 663.3,110.3 667.0,114.0 C670.7,117.7 673.8,120.5 677.0,125.0 C680.2,129.5 683.4,135.5 686.0,141.0 C688.6,146.5 690.4,151.5 692.4,158.0 C694.4,164.5 696.2,172.7 698.0,180.0 C699.8,187.3 701.4,192.8 703.4,202.0 C705.4,211.2 707.8,224.0 710.0,235.0 C712.2,246.0 714.8,258.8 716.6,268.0 C718.4,277.2 719.3,277.2 721.0,290.0 C722.7,302.8 725.0,327.5 727.0,345.0 C729.0,362.5 731.0,378.3 733.0,395.0 C735.0,411.7 737.0,427.5 739.0,445.0 C741.0,462.5 743.8,487.5 745.0,500.0 C746.2,512.5 746.1,509.0 746.4,520.0 C746.6,531.0 746.6,554.3 746.5,566.0 C746.4,577.7 745.9,582.4 745.5,590.0 C745.1,597.6 744.2,607.8 744.0,611.4" fill="none" stroke="#000" stroke-width="1.8" />
<path d="M527.5,49.5 C531.6,50.7 543.6,53.8 552.0,56.5 C560.4,59.2 570.0,62.3 578.0,66.0 C586.0,69.7 593.5,75.1 600.0,78.8 C606.5,82.5 611.5,84.7 617.0,88.0 C622.5,91.3 627.8,95.3 633.0,98.6 C638.2,101.9 643.2,104.7 648.0,108.0 C652.8,111.3 657.8,114.9 661.6,118.4 C665.4,121.9 668.1,125.3 671.0,129.0 C673.9,132.7 677.0,136.2 679.2,140.4 C681.4,144.6 682.5,149.2 684.0,154.0 C685.5,158.8 686.4,162.0 688.0,169.0 C689.6,176.0 691.7,186.8 693.5,196.0 C695.3,205.2 697.1,213.3 699.0,224.0 C700.9,234.7 703.2,249.0 705.0,260.0 C706.8,271.0 708.0,275.8 710.0,290.0 C712.0,304.2 714.6,327.5 716.7,345.0 C718.8,362.5 720.8,378.3 722.8,395.0 C724.8,411.7 726.8,427.5 728.9,445.0 C731.0,462.5 734.2,485.8 735.5,500.0 C736.8,514.2 736.3,521.9 736.5,530.0 C736.7,538.1 736.9,540.1 736.8,548.4 C736.7,556.7 736.1,569.9 736.0,580.0 C735.9,590.1 736.0,604.2 736.0,609.0" fill="none" stroke="#000" stroke-width="1.0" />
<path d="M532.5,57.5 C536.4,58.5 548.1,61.0 556.0,63.5 C563.9,66.0 572.7,69.0 580.0,72.5 C587.3,76.0 593.0,80.0 600.0,84.3 C607.0,88.6 614.7,93.5 622.0,98.5 C629.3,103.5 638.2,109.5 644.0,114.0 C649.8,118.5 653.0,121.5 657.0,125.5 C661.0,129.5 665.1,133.6 668.2,138.2 C671.3,142.8 673.3,147.9 675.5,153.0 C677.7,158.1 679.5,161.8 681.4,169.0 C683.3,176.2 685.2,186.8 687.0,196.0 C688.8,205.2 690.6,213.8 692.4,224.0 C694.2,234.2 696.2,246.0 698.0,257.0 C699.8,268.0 701.3,275.3 703.4,290.0 C705.5,304.7 708.4,327.5 710.7,345.0 C713.0,362.5 715.2,378.3 717.4,395.0 C719.6,411.7 721.9,427.5 724.0,445.0 C726.1,462.5 728.8,486.7 730.0,500.0 C731.2,513.3 731.0,517.2 731.3,525.0 C731.6,532.8 731.9,543.2 732.0,546.8" fill="none" stroke="#333" stroke-width="0.7" />
<path d="M534.0,67.5 C537.5,68.4 548.2,70.8 555.0,73.0 C561.8,75.2 567.5,77.5 575.0,81.0 C582.5,84.5 593.5,90.5 600.0,94.2 C606.5,97.9 609.2,99.9 614.0,103.0 C618.8,106.1 623.9,109.8 628.6,113.0 C633.3,116.2 637.6,119.0 642.0,122.5 C646.4,126.0 651.4,130.1 655.0,133.8 C658.6,137.6 660.9,141.0 663.5,145.0 C666.1,149.0 668.5,153.2 670.4,158.0 C672.3,162.8 673.5,168.5 675.0,174.0 C676.5,179.5 677.8,184.5 679.2,191.0 C680.6,197.5 682.0,205.7 683.5,213.0 C685.0,220.3 686.5,226.8 688.0,235.0 C689.5,243.2 691.0,252.8 692.5,262.0 C694.0,271.2 695.0,276.2 696.8,290.0 C698.6,303.8 701.2,327.5 703.3,345.0 C705.4,362.5 707.2,378.3 709.2,395.0 C711.2,411.7 712.8,430.8 715.1,445.0 C717.4,459.2 721.3,470.8 722.8,480.0 C724.3,489.2 723.7,493.3 724.0,500.0 C724.3,506.7 724.4,516.7 724.5,520.0" fill="none" stroke="#000" stroke-width="1.7" />
<path d="M519.5,42.0 L519.5,94.0" fill="none" stroke="#000" stroke-width="1.6" />
<path d="M527.5,49.5 L529.6,207.0 L529.6,420.0 L529.7,554.7" fill="none" stroke="#000" stroke-width="1.5" />
<path d="M534.2,67.5 L534.5,382.5" fill="none" stroke="#000" stroke-width="1.6" />
<path d="M532.5,57.5 L534.0,59.0 L534.0,68.0" fill="none" stroke="#000" stroke-width="1.0" />
<path d="M521.3,432.5 L521.5,544.0 L529.7,554.7" fill="none" stroke="#000" stroke-width="1.6" />
<path d="M535.6,403.5 L535.8,548.8" fill="none" stroke="#000" stroke-width="1.6" />
<path d="M608.0,101.0 L608.0,417.5" fill="none" stroke="#000" stroke-width="1.2" />
<path d="M613.0,104.0 L613.0,421.0" fill="none" stroke="#000" stroke-width="1.6" />
<path d="M534.7,383.2 C537.6,384.4 546.1,387.8 552.0,390.5 C557.9,393.2 563.7,396.1 570.0,399.4 C576.3,402.7 583.7,406.7 590.0,410.5 C596.3,414.3 601.5,417.9 607.6,422.0 C613.7,426.1 619.4,429.7 626.5,435.2 C633.6,440.7 643.5,449.5 650.0,455.0 C656.5,460.5 659.8,463.1 665.3,468.2 C670.8,473.3 677.1,479.6 683.0,485.5 C688.9,491.4 695.6,498.1 700.6,503.5 C705.6,508.9 709.1,513.1 713.0,518.0 C716.9,522.9 722.2,530.5 724.0,533.0" fill="none" stroke="#000" stroke-width="1.5" />
<path d="M612.8,422.0 C615.9,423.9 625.0,428.9 631.2,433.3 C637.4,437.7 644.5,443.8 650.0,448.4 C655.5,453.0 659.5,456.9 664.0,461.0 C668.5,465.1 672.8,469.1 677.0,473.0 C681.2,476.9 685.1,480.6 689.0,484.5 C692.9,488.4 696.8,492.5 700.6,496.5 C704.4,500.5 708.2,504.4 712.0,508.5 C715.8,512.6 721.6,519.1 723.5,521.2" fill="none" stroke="#000" stroke-width="1.5" />
<path d="M529.4,387.9 C532.8,389.2 543.2,392.6 550.0,395.5 C556.8,398.4 563.3,402.0 570.0,405.5 C576.7,409.0 583.7,412.8 590.0,416.5 C596.3,420.2 601.5,423.5 607.6,427.6 C613.7,431.7 619.4,435.7 626.5,441.3 C633.6,446.9 643.5,455.8 650.0,461.5 C656.5,467.2 659.8,470.1 665.3,475.3 C670.8,480.5 677.1,486.6 683.0,492.5 C688.9,498.4 695.6,505.1 700.6,510.6 C705.6,516.1 709.1,520.6 713.0,525.5 C716.9,530.4 720.8,536.0 724.0,540.0 C727.2,544.0 730.7,547.7 732.0,549.2" fill="none" stroke="#000" stroke-width="1.6" />
<path d="M536.0,403.5 C538.7,404.3 546.3,406.1 552.0,408.5 C557.7,410.9 563.7,414.2 570.0,417.8 C576.3,421.4 583.7,425.9 590.0,430.0 C596.3,434.1 601.5,438.2 607.6,442.7 C613.7,447.2 620.9,452.2 626.5,456.8 C632.1,461.4 635.0,464.6 641.5,470.0 C648.0,475.4 659.4,484.1 665.3,489.4 C671.2,494.6 673.1,497.2 677.0,501.5 C680.9,505.8 685.3,511.0 688.8,515.3 C692.3,519.5 694.9,522.9 698.0,527.0 C701.1,531.1 703.9,535.6 707.6,540.0 C711.3,544.4 715.7,547.5 720.0,553.2 C724.3,558.9 731.3,570.5 733.6,574.0" fill="none" stroke="#000" stroke-width="1.7" />
<path d="M724.0,520.0 L724.7,533.0" fill="none" stroke="#000" stroke-width="1.6" />
<path d="M732.0,549.2 L736.8,548.4" fill="none" stroke="#000" stroke-width="1.2" />
<path d="M733.6,574.0 L734.0,598.4" fill="none" stroke="#000" stroke-width="1.6" />
<path d="M607.6,443.2 L607.6,456 Q607.8,459.5 611,461 L624,467.6 Q629.3,469.5 629.3,465.5 L628.8,459.6" fill="none" stroke="#000" stroke-width="1.4" />
<ellipse cx="612.2" cy="454.0" rx="1.3" ry="2.6" fill="none" stroke="#000" stroke-width="1.1"/>
<ellipse cx="623.2" cy="461.5" rx="1.3" ry="2.6" fill="none" stroke="#000" stroke-width="1.1"/>
<path d="M530,209.5 L543,207 Q545,207 545,209 L545,246 L531,250 Z" fill="#fff" stroke="#000" stroke-width="1.3" />
<line x1="533.0" y1="209.5" x2="533.0" y2="249.0" stroke="#888" stroke-width="0.5"/>
<line x1="535.5" y1="209.5" x2="535.5" y2="249.0" stroke="#888" stroke-width="0.5"/>
<line x1="538.0" y1="209.5" x2="538.0" y2="249.0" stroke="#888" stroke-width="0.5"/>
<path d="M530.0,209.5 L530.0,250.0 L531.0,250.0" fill="none" stroke="#000" stroke-width="1.3" />
<path d="M521.5,544.0 C525.4,549.1 537.8,565.2 545.0,574.5 C552.2,583.8 557.5,591.2 565.0,600.0 C572.5,608.8 582.5,619.5 590.0,627.0 C597.5,634.5 603.3,639.1 610.0,645.0 C616.7,650.9 624.7,658.1 630.0,662.6 C635.3,667.1 638.2,669.2 642.0,672.0 C645.8,674.8 650.2,677.6 653.0,679.4 C655.8,681.1 657.2,681.7 659.0,682.5 C660.8,683.3 661.8,684.0 663.6,684.0 C665.4,684.0 667.8,683.8 669.8,682.5 C671.8,681.2 674.4,679.2 675.9,676.4 C677.4,673.6 677.7,671.5 679.0,665.6 C680.3,659.7 682.0,648.8 683.5,641.2 C685.0,633.6 686.8,624.4 688.0,619.8 C689.2,615.2 689.5,615.3 690.5,613.5 C691.5,611.7 692.8,610.4 694.2,609.0 C695.6,607.6 697.2,606.1 699.0,605.0 C700.8,603.9 702.2,602.9 705.0,602.2 C707.8,601.5 712.9,600.6 715.7,600.6 C718.5,600.6 720.0,601.6 722.0,602.5 C724.0,603.4 726.1,604.8 727.9,606.0 C729.6,607.2 731.0,609.0 732.5,610.0 C734.0,611.0 735.1,611.8 737.0,612.0 C738.9,612.2 742.8,611.5 744.0,611.4" fill="none" stroke="#000" stroke-width="1.7" />
<path d="M529.7,541.0 C530.7,542.3 531.6,543.5 535.8,548.8 C540.0,554.1 548.2,564.5 555.0,573.0 C561.8,581.5 569.3,591.5 576.8,600.0 C584.3,608.5 593.6,617.7 600.0,624.0 C606.4,630.3 610.0,633.5 615.0,638.0 C620.0,642.5 625.5,647.1 630.0,651.0 C634.5,654.9 638.2,658.3 642.0,661.5 C645.8,664.7 650.0,668.0 653.0,670.2 C656.0,672.4 658.1,673.6 660.0,674.5 C661.9,675.4 663.1,675.8 664.4,675.6 C665.6,675.4 666.6,675.0 667.5,673.3 C668.4,671.6 668.6,671.0 669.8,665.6 C670.9,660.2 672.9,648.8 674.4,641.2 C675.9,633.6 677.8,624.5 679.0,619.8 C680.2,615.1 680.5,615.0 681.5,613.0 C682.5,611.0 683.6,609.2 685.0,607.5 C686.4,605.8 688.2,604.0 690.0,602.5 C691.8,601.0 693.8,599.6 695.8,598.4 C697.8,597.1 699.7,595.9 702.0,595.0 C704.3,594.1 707.2,593.5 709.5,593.0 C711.8,592.5 713.5,592.3 715.5,592.3 C717.5,592.3 719.7,592.5 721.8,593.0 C723.9,593.5 726.0,594.1 728.0,595.0 C730.0,595.9 733.0,597.8 734.0,598.4" fill="none" stroke="#000" stroke-width="1.7" />
<line x1="676.5" y1="334.0" x2="662.5" y2="376.0" stroke="#666" stroke-width="0.6"/>
<line x1="679.3" y1="334.4" x2="666.0" y2="374.3" stroke="#666" stroke-width="0.6"/>
<line x1="680.7" y1="335.6" x2="669.5" y2="369.2" stroke="#666" stroke-width="0.6"/>
<line x1="594.0" y1="491.0" x2="580.0" y2="533.0" stroke="#666" stroke-width="0.6"/>
<line x1="596.8" y1="491.4" x2="583.5" y2="531.3" stroke="#666" stroke-width="0.6"/>
<line x1="598.2" y1="492.6" x2="587.0" y2="526.2" stroke="#666" stroke-width="0.6"/>
<line x1="649.0" y1="200.0" x2="635.0" y2="242.0" stroke="#666" stroke-width="0.6"/>
<line x1="651.8" y1="200.4" x2="638.5" y2="240.3" stroke="#666" stroke-width="0.6"/>
<line x1="653.2" y1="201.6" x2="642.0" y2="235.2" stroke="#666" stroke-width="0.6"/>
<line x1="664.0" y1="551.0" x2="650.0" y2="593.0" stroke="#666" stroke-width="0.6"/>
<line x1="666.8" y1="551.4" x2="653.5" y2="591.3" stroke="#666" stroke-width="0.6"/>
<line x1="668.2" y1="552.6" x2="657.0" y2="586.2" stroke="#666" stroke-width="0.6"/>
<path d="M439,67.5 L441,67 Q480,78 512,101 L517,103 L517,419.5 L512,423.5 Q480,396 439,384 Z" fill="#fff" stroke="#000" stroke-width="1.4" />
<path d="M512.0,101.0 L512.0,423.5" fill="none" stroke="#000" stroke-width="1.4" />
<path d="M440.5,69.5 Q479,80 511,102.5" fill="none" stroke="#000" stroke-width="0.9" />
<line x1="481.0" y1="164.0" x2="467.0" y2="206.0" stroke="#666" stroke-width="0.6"/>
<line x1="483.8" y1="164.4" x2="470.5" y2="204.3" stroke="#666" stroke-width="0.6"/>
<line x1="485.2" y1="165.6" x2="474.0" y2="199.2" stroke="#666" stroke-width="0.6"/>
<line x1="482.0" y1="300.0" x2="468.0" y2="342.0" stroke="#666" stroke-width="0.6"/>
<line x1="484.8" y1="300.4" x2="471.5" y2="340.3" stroke="#666" stroke-width="0.6"/>
<line x1="486.2" y1="301.6" x2="475.0" y2="335.2" stroke="#666" stroke-width="0.6"/>
<line x1="486.0" y1="409.0" x2="470.0" y2="449.5" stroke="#000" stroke-width="1.3"/>
<path d="M382.6,91.4 L408.2,134 L454.9,213.4 L474.2,246.4 L468.8,249.6 L449.9,216.4 L404.6,136.2 L380.6,92.6 Z" fill="#1600c4" stroke="#1600c4" stroke-width="0.6" stroke-linejoin="round"/>
<path d="M477.4,258.4 L465,251.7 L478.8,244.3 Z" fill="#1600c4" stroke="#1600c4" stroke-width="1.2" stroke-linejoin="round"/>
<circle cx="759.5" cy="110.0" r="67.0" fill="#fff" stroke="#000" stroke-width="1.6"/>
<path d="M739,56 L742.5,53.5 L779,72.5 L779,155 L775,157 L765.5,157 L765.5,149.5 L739,136.5 Z" fill="#fff" stroke="#000" stroke-width="1.4" />
<path d="M739.0,56.0 L767.0,71.0 L765.5,76.0" fill="none" stroke="#000" stroke-width="1.0" />
<path d="M765.5,76.0 L775.0,76.0 L775.0,157.0" fill="none" stroke="#000" stroke-width="1.2" />
<path d="M765.5,76.0 L765.5,150.0" fill="none" stroke="#000" stroke-width="1.2" />
<path d="M775.0,76.0 L779.0,72.5" fill="none" stroke="#000" stroke-width="1.0" />
<path d="M767.0,71.0 L776.0,72.0" fill="none" stroke="#000" stroke-width="0.8" />
<line x1="772.8" y1="78.0" x2="772.8" y2="155.0" stroke="#888" stroke-width="0.6"/>
<ellipse cx="748.5" cy="82.5" rx="4.6" ry="6.2" fill="none" stroke="#000" stroke-width="1.2" transform="rotate(-20 748.5 82.5)"/>
<ellipse cx="747.5" cy="119.0" rx="5.0" ry="6.6" fill="none" stroke="#000" stroke-width="1.2" transform="rotate(-20 747.5 119.0)"/>
<path d="M744.5,115 Q746,122 750.5,124" fill="none" stroke="#000" stroke-width="0.9" />
<path d="M720,94.5 L744,82 L746.5,88 L723,101 Z" fill="#fff" stroke="#000" stroke-width="1.1" />
<line x1="722.5" y1="93.5" x2="724.9" y2="99.5" stroke="#000" stroke-width="0.8"/>
<line x1="725.1" y1="92.2" x2="727.5" y2="98.2" stroke="#000" stroke-width="0.8"/>
<line x1="727.7" y1="90.8" x2="730.1" y2="96.8" stroke="#000" stroke-width="0.8"/>
<line x1="730.3" y1="89.5" x2="732.7" y2="95.5" stroke="#000" stroke-width="0.8"/>
<line x1="732.9" y1="88.1" x2="735.3" y2="94.1" stroke="#000" stroke-width="0.8"/>
<line x1="735.5" y1="86.8" x2="737.9" y2="92.8" stroke="#000" stroke-width="0.8"/>
<line x1="738.1" y1="85.4" x2="740.5" y2="91.4" stroke="#000" stroke-width="0.8"/>
<line x1="740.7" y1="84.0" x2="743.1" y2="90.0" stroke="#000" stroke-width="0.8"/>
<line x1="743.3" y1="82.7" x2="745.7" y2="88.7" stroke="#000" stroke-width="0.8"/>
<ellipse cx="717.0" cy="100.0" rx="5.2" ry="8.0" fill="#fff" stroke="#000" stroke-width="1.4" transform="rotate(-25 717.0 100.0)"/>
<path d="M713.5,98 L720.5,102 M718.5,95.5 L715.5,104.5" fill="none" stroke="#000" stroke-width="1.0" />
<line x1="802.0" y1="115.0" x2="780.0" y2="134.0" stroke="#000" stroke-width="1.3"/>
<line x1="720.5" y1="125.0" x2="733.0" y2="95.5" stroke="#000" stroke-width="1.3"/>
<line x1="764.0" y1="231.0" x2="717.0" y2="269.0" stroke="#000" stroke-width="1.3"/>
<ellipse cx="763.2" cy="437.8" rx="5.1" ry="7.2" fill="#fff" stroke="#000" stroke-width="2.0"/>
<ellipse cx="763.0" cy="437.8" rx="1.7" ry="3.1" fill="none" stroke="#000" stroke-width="1.4"/>
<path d="M775,430.5 L778.5,427.8 L784,427.8 L786.8,431 L786.8,438.5 L783,441.5 L777.5,441.3 L775,438.5 Z" fill="#fff" stroke="#000" stroke-width="1.9" />
<path d="M781.8,428.3 L781.8,441.0" fill="none" stroke="#000" stroke-width="0.9" />
<ellipse cx="778.3" cy="434.5" rx="1.8" ry="3.2" fill="none" stroke="#000" stroke-width="1.2"/>
<path d="M787.5,423 L808,419.2 L822,417.6 Q834,418 835.5,425.5 Q834.5,430.5 829,430.3 L818,428 L803,430.5" fill="none" stroke="#000" stroke-width="4.2" stroke-linecap="round"/>
<path d="M787.5,423 L808,419.2 L822,417.6 Q834,418 835.5,425.5 Q834.5,430.5 829,430.3 L818,428 L803,430.5" fill="none" stroke="#fff" stroke-width="1.8" stroke-linecap="round"/>
<line x1="789.0" y1="421.4" x2="789.5" y2="424.4" stroke="#000" stroke-width="0.7"/>
<line x1="791.6" y1="420.9" x2="792.1" y2="423.9" stroke="#000" stroke-width="0.7"/>
<line x1="794.2" y1="420.5" x2="794.7" y2="423.5" stroke="#000" stroke-width="0.7"/>
<line x1="796.8" y1="420.0" x2="797.3" y2="423.0" stroke="#000" stroke-width="0.7"/>
<line x1="799.4" y1="419.5" x2="799.9" y2="422.5" stroke="#000" stroke-width="0.7"/>
<line x1="802.0" y1="419.0" x2="802.5" y2="422.0" stroke="#000" stroke-width="0.7"/>
<line x1="804.6" y1="418.6" x2="805.1" y2="421.6" stroke="#000" stroke-width="0.7"/>
<line x1="804.5" y1="428.8" x2="805.0" y2="431.8" stroke="#000" stroke-width="0.7"/>
<line x1="806.9" y1="428.4" x2="807.4" y2="431.4" stroke="#000" stroke-width="0.7"/>
<line x1="809.3" y1="428.0" x2="809.8" y2="431.0" stroke="#000" stroke-width="0.7"/>
<line x1="811.7" y1="427.6" x2="812.2" y2="430.6" stroke="#000" stroke-width="0.7"/>
<line x1="814.1" y1="427.2" x2="814.6" y2="430.2" stroke="#000" stroke-width="0.7"/>
<line x1="816.5" y1="426.8" x2="817.0" y2="429.8" stroke="#000" stroke-width="0.7"/>
<line x1="775.0" y1="392.0" x2="764.0" y2="430.0" stroke="#000" stroke-width="1.3"/>
<line x1="817.0" y1="384.0" x2="808.5" y2="417.0" stroke="#000" stroke-width="1.3"/>
<line x1="783.5" y1="442.5" x2="798.0" y2="476.0" stroke="#000" stroke-width="1.3"/>
<circle cx="770.0" cy="668.8" r="56.0" fill="#fff" stroke="#000" stroke-width="1.6"/>
<path d="M795.5,654.0 L811.0,661.5 L811.0,693.0 L795.5,685.0 Z" fill="#fff" stroke="#000" stroke-width="1.3" />
<path d="M811.0,661.5 L814.0,658.0 L814.0,693.0 L811.0,693.0" fill="none" stroke="#000" stroke-width="1.3" />
<path d="M804.5,650.0 L804.5,658.5" fill="none" stroke="#000" stroke-width="1.2" />
<path d="M767.5,650 L767.5,689 L766,690 L766.5,694 L779.5,700.8 Q782.5,702 785.5,700.8 L802,691.5 L802,688 L795.5,685 L795.5,654 L804.5,649 L804.5,646 Z" fill="#fff" stroke="#000" stroke-width="1.5" />
<path d="M767.5,689.0 L779.5,695.8 L785.0,695.8 L796.5,689.5" fill="none" stroke="#000" stroke-width="0.8" />
<line x1="784.5" y1="658.0" x2="784.5" y2="696.0" stroke="#000" stroke-width="0.9"/>
<line x1="779.0" y1="658.0" x2="779.0" y2="695.5" stroke="#999" stroke-width="0.6"/>
<path d="M766,644 Q765.5,642 768,640.5 L789,629.3 Q791.5,628.5 794,629.5 L806.5,636.5 Q807.5,637.5 807.2,639.5 L807,645 Q806.5,646.5 805,647.5 L784.5,657.5 Q782,658.3 779.5,657.2 L767.5,650.5 Q765.8,649.2 766,647 Z" fill="#fff" stroke="#000" stroke-width="1.6" />
<path d="M770.5,645 L789.5,633.5 Q791.3,633 793,633.5 L803.5,639.5 Q804.3,640.5 803,641.5 L784,652.5 Q782,653.2 780,652.3 L770.5,646.8 Q769.5,645.8 770.5,645 Z" fill="none" stroke="#000" stroke-width="0.9" />
<path d="M767.5,646.5 L780,653.5 Q782,654.3 784,653.5 L806.5,641" fill="none" stroke="#555" stroke-width="0.7" />
<ellipse cx="786.5" cy="641.5" rx="3.2" ry="2.2" fill="none" stroke="#000" stroke-width="1.0"/>
<line x1="757.0" y1="671.0" x2="767.0" y2="674.0" stroke="#000" stroke-width="1.3"/>
<circle cx="458.4" cy="897.0" r="86.7" fill="#fff" stroke="#000" stroke-width="1.6"/>
<path d="M456.0,854.0 L463.5,849.5 L468.5,853.5 L467.0,877.0 L474.0,879.7 L477.0,869.7 L486.0,876.7 L501.0,877.0 L507.6,882.7 L499.7,943.0 L477.0,938.0 L447.8,911.0 Z" fill="#fff" stroke="#000" stroke-width="1.4" />
<path d="M486.0,876.7 L478.5,934.5" fill="none" stroke="#000" stroke-width="0.9" />
<path d="M501.0,877.0 L494.5,934.0" fill="none" stroke="#000" stroke-width="0.9" />
<path d="M478.5,934.5 L494.5,934.0 L499.7,943.0" fill="none" stroke="#000" stroke-width="0.9" />
<path d="M463.5,849.5 L466.0,856.5 L468.0,855.0" fill="none" stroke="#000" stroke-width="0.9" />
<ellipse cx="459.0" cy="865.5" rx="1.1" ry="1.9" fill="none" stroke="#000" stroke-width="0.9"/>
<ellipse cx="481.5" cy="881.5" rx="1.1" ry="1.9" fill="none" stroke="#000" stroke-width="0.9"/>
<ellipse cx="453.5" cy="910.5" rx="1.1" ry="1.9" fill="none" stroke="#000" stroke-width="0.9"/>
<ellipse cx="475.5" cy="929.0" rx="1.1" ry="1.9" fill="none" stroke="#000" stroke-width="0.9"/>
<ellipse cx="504.0" cy="888.0" rx="1.1" ry="1.9" fill="none" stroke="#000" stroke-width="0.9"/>
<ellipse cx="497.5" cy="933.0" rx="1.1" ry="1.9" fill="none" stroke="#000" stroke-width="0.9"/>
<line x1="460" y1="935.8" x2="520" y2="933.8" stroke="#999" stroke-width="0.7" stroke-dasharray="8 2 1.5 2"/>
<path d="M417.3,861.5 l3,-2.5 l5.5,0 l2,3 l0,8 l-2.5,2.5 l-6,0 l-2,-3 Z" fill="#fff" stroke="#000" stroke-width="1.3" />
<path d="M425.3,872.0 l2,-2" fill="none" stroke="#000" stroke-width="0.1" />
<path d="M427.8,864.0 l18.0,0.5 l0,5.5 l-18.0,-0.5 Z" fill="#fff" stroke="#000" stroke-width="1.0" />
<line x1="429.3" y1="864.5" x2="429.3" y2="869.1" stroke="#000" stroke-width="0.8"/>
<line x1="431.6" y1="864.5" x2="431.6" y2="869.1" stroke="#000" stroke-width="0.8"/>
<line x1="433.9" y1="864.5" x2="433.9" y2="869.1" stroke="#000" stroke-width="0.8"/>
<line x1="436.2" y1="864.5" x2="436.2" y2="869.1" stroke="#000" stroke-width="0.8"/>
<line x1="438.5" y1="864.5" x2="438.5" y2="869.1" stroke="#000" stroke-width="0.8"/>
<line x1="440.8" y1="864.5" x2="440.8" y2="869.1" stroke="#000" stroke-width="0.8"/>
<line x1="443.1" y1="864.5" x2="443.1" y2="869.1" stroke="#000" stroke-width="0.8"/>
<ellipse cx="450.3" cy="866.0" rx="4.4" ry="6.4" fill="#fff" stroke="#000" stroke-width="1.5"/>
<ellipse cx="450.3" cy="866.0" rx="1.9" ry="3.2" fill="none" stroke="#000" stroke-width="1.1"/>
<path d="M423.6,932.0 l3,-2.5 l5.5,0 l2,3 l0,8 l-2.5,2.5 l-6,0 l-2,-3 Z" fill="#fff" stroke="#000" stroke-width="1.3" />
<path d="M431.6,942.5 l2,-2" fill="none" stroke="#000" stroke-width="0.1" />
<path d="M434.1,934.5 l17.0,0.5 l0,5.5 l-17.0,-0.5 Z" fill="#fff" stroke="#000" stroke-width="1.0" />
<line x1="435.6" y1="935.0" x2="435.6" y2="939.6" stroke="#000" stroke-width="0.8"/>
<line x1="437.9" y1="935.0" x2="437.9" y2="939.6" stroke="#000" stroke-width="0.8"/>
<line x1="440.2" y1="935.0" x2="440.2" y2="939.6" stroke="#000" stroke-width="0.8"/>
<line x1="442.5" y1="935.0" x2="442.5" y2="939.6" stroke="#000" stroke-width="0.8"/>
<line x1="444.8" y1="935.0" x2="444.8" y2="939.6" stroke="#000" stroke-width="0.8"/>
<line x1="447.1" y1="935.0" x2="447.1" y2="939.6" stroke="#000" stroke-width="0.8"/>
<line x1="449.4" y1="935.0" x2="449.4" y2="939.6" stroke="#000" stroke-width="0.8"/>
<ellipse cx="456.0" cy="935.8" rx="4.4" ry="6.4" fill="#fff" stroke="#000" stroke-width="1.5"/>
<ellipse cx="456.0" cy="935.8" rx="1.9" ry="3.2" fill="none" stroke="#000" stroke-width="1.1"/>
<line x1="443.5" y1="837.3" x2="448.5" y2="859.5" stroke="#000" stroke-width="1.3"/>
<line x1="499.0" y1="859.8" x2="492.7" y2="876.7" stroke="#000" stroke-width="1.3"/>
<line x1="405.4" y1="877.0" x2="416.8" y2="869.7" stroke="#000" stroke-width="1.3"/>
<line x1="413.6" y1="920.9" x2="423.6" y2="932.0" stroke="#000" stroke-width="1.3"/>
<line x1="457.2" y1="943.3" x2="461.0" y2="957.0" stroke="#000" stroke-width="1.3"/>
<circle cx="660.0" cy="841.0" r="96.5" fill="#fff" stroke="#000" stroke-width="1.6"/>
<path d="M655.0,809.5 C653.2,809.2 647.8,806.8 644.0,808.0 C640.2,809.2 636.0,812.3 632.0,817.0 C628.0,821.7 623.4,829.2 620.0,836.0 C616.6,842.8 613.2,851.5 611.5,858.0 C609.8,864.5 609.6,868.8 609.5,875.0 C609.4,881.2 609.8,889.2 611.0,895.0 C612.2,900.8 614.7,906.2 617.0,910.0 C619.3,913.8 622.2,916.2 625.0,918.0 C627.8,919.8 632.5,920.1 634.0,920.5" fill="none" stroke="#000" stroke-width="1.6" />
<path d="M652.0,813.5 C651.0,813.4 648.7,811.9 646.0,813.0 C643.3,814.1 639.3,816.2 636.0,820.0 C632.7,823.8 629.0,830.0 626.0,836.0 C623.0,842.0 619.8,849.8 618.0,856.0 C616.2,862.2 615.2,867.0 615.0,873.0 C614.8,879.0 615.3,886.5 616.5,892.0 C617.7,897.5 619.8,902.3 622.0,906.0 C624.2,909.7 628.7,912.7 630.0,914.0" fill="none" stroke="#000" stroke-width="1.1" />
<path d="M637,822 Q634.5,825 636,829 L640,834.5" fill="none" stroke="#000" stroke-width="1.2" />
<path d="M640.5,819.5 Q644,816 648,818.5 L645,825 Q642.5,828 640,826 Z" fill="#fff" stroke="#000" stroke-width="1.1" />
<path d="M645,821 L652,815.5 L657,818 L648,829 Z" fill="#fff" stroke="#000" stroke-width="1.1" />
<path d="M631,836 Q625,837.5 625,843 L626.5,851 L634.5,856" fill="none" stroke="#000" stroke-width="1.2" />
<path d="M631,836 L640,841" fill="none" stroke="#000" stroke-width="1.0" />
<path d="M629,884 Q622.5,886 622.5,892 L624,898 L632,903" fill="none" stroke="#000" stroke-width="1.2" />
<path d="M629,884 L633,886.5" fill="none" stroke="#000" stroke-width="1.0" />
<path d="M670.6,815.0 C671.8,815.1 675.6,814.8 678.0,815.5 C680.4,816.2 682.7,817.3 684.7,819.4 C686.7,821.5 688.7,824.5 690.0,828.0 C691.3,831.5 692.2,836.1 692.6,840.6 C693.0,845.1 692.9,850.0 692.5,855.0 C692.1,860.0 691.2,865.3 690.0,870.6 C688.8,875.9 687.1,881.7 685.0,887.0 C682.9,892.3 680.1,897.8 677.6,902.3 C675.1,906.8 672.6,910.8 670.0,914.0 C667.4,917.2 664.1,920.1 661.8,921.8 C659.5,923.5 657.8,923.7 656.0,924.0 C654.2,924.3 653.2,924.2 651.2,923.5 C649.2,922.8 646.1,921.5 644.0,920.0 C641.9,918.5 640.4,917.2 638.8,914.7 C637.2,912.2 635.5,908.2 634.5,905.0 C633.5,901.8 633.0,899.0 632.6,895.3 C632.2,891.6 632.1,887.1 632.3,883.0 C632.4,878.9 632.8,874.8 633.5,870.6 C634.2,866.4 635.3,862.1 636.5,858.0 C637.7,853.9 639.0,849.6 640.6,845.9 C642.2,842.1 644.0,838.7 646.0,835.5 C648.0,832.3 650.4,829.2 652.9,826.5 C655.4,823.8 658.0,820.9 661.0,819.0 C664.0,817.1 669.0,815.7 670.6,815.0 Z" fill="#fff" stroke="#000" stroke-width="1.7"/>
<path d="M669.5,820.0 C670.8,820.1 674.8,819.7 677.0,820.5 C679.2,821.3 681.4,822.9 683.0,825.0 C684.6,827.1 685.7,829.7 686.5,833.0 C687.3,836.3 687.9,840.5 688.0,845.0 C688.1,849.5 687.6,855.2 687.0,860.0 C686.4,864.8 685.7,869.3 684.5,874.0 C683.3,878.7 681.8,883.5 680.0,888.0 C678.2,892.5 675.7,897.2 673.5,901.0 C671.3,904.8 669.2,908.2 667.0,911.0 C664.8,913.8 662.3,916.2 660.0,917.5 C657.7,918.8 655.3,919.4 653.0,919.0 C650.7,918.6 648.0,916.8 646.0,915.0 C644.0,913.2 642.3,911.0 641.0,908.0 C639.7,905.0 638.6,901.0 638.0,897.0 C637.4,893.0 637.4,888.3 637.5,884.0 C637.6,879.7 637.8,875.3 638.5,871.0 C639.2,866.7 640.3,862.0 641.5,858.0 C642.7,854.0 643.9,850.6 645.5,847.0 C647.1,843.4 649.0,839.7 651.0,836.5 C653.0,833.3 655.5,830.2 657.5,828.0 C659.5,825.8 661.0,824.3 663.0,823.0 C665.0,821.7 668.4,820.5 669.5,820.0" fill="none" stroke="#444" stroke-width="0.7" />
<ellipse cx="669.7" cy="838.0" rx="6.3" ry="10.8" fill="none" stroke="#000" stroke-width="1.4" transform="rotate(12 669.7 838.0)"/>
<path d="M665,832 Q667,827.5 672,828 Q674,833 672,838" fill="none" stroke="#333" stroke-width="0.8" />
<path d="M652.0,836.0 C651.0,837.7 647.6,842.0 646.0,846.0 C644.4,850.0 643.3,855.0 642.5,860.0 C641.7,865.0 641.1,871.0 641.0,876.0 C640.9,881.0 641.2,886.7 642.0,890.0 C642.8,893.3 644.2,896.7 646.0,896.0 C647.8,895.3 650.8,890.0 653.0,886.0 C655.2,882.0 657.4,876.7 659.0,872.0 C660.6,867.3 661.8,862.3 662.5,858.0 C663.2,853.7 663.4,849.3 663.0,846.0 C662.6,842.7 661.3,839.9 660.0,838.0 C658.7,836.1 656.3,834.8 655.0,834.5 C653.7,834.2 652.5,835.8 652.0,836.0" fill="none" stroke="#000" stroke-width="0.9" />
<path d="M648.0,899.0 C649.2,898.0 652.7,894.2 655.0,893.0 C657.3,891.8 659.8,891.7 662.0,892.0 C664.2,892.3 667.3,892.8 668.0,895.0 C668.7,897.2 667.3,902.0 666.0,905.0 C664.7,908.0 662.2,911.2 660.0,913.0 C657.8,914.8 655.0,916.3 653.0,916.0 C651.0,915.7 649.2,913.0 648.0,911.0 C646.8,909.0 646.0,906.0 646.0,904.0 C646.0,902.0 647.7,899.8 648.0,899.0" fill="none" stroke="#000" stroke-width="0.9" />
<path d="M679.0,822.0 C679.7,823.5 682.2,827.5 683.0,831.0 C683.8,834.5 684.2,839.5 684.0,843.0 C683.8,846.5 682.3,850.5 682.0,852.0" fill="none" stroke="#444" stroke-width="0.7" />
<path d="M682.5,845.0 C682.6,847.8 683.4,856.2 683.0,862.0 C682.6,867.8 681.5,874.3 680.0,880.0 C678.5,885.7 676.0,891.5 674.0,896.0 C672.0,900.5 669.0,905.2 668.0,907.0" fill="none" stroke="#000" stroke-width="1.0" />
<path d="M664.0,842.0 C664.5,844.3 666.7,851.0 667.0,856.0 C667.3,861.0 666.8,866.7 666.0,872.0 C665.2,877.3 663.8,883.3 662.0,888.0 C660.2,892.7 656.2,898.0 655.0,900.0" fill="none" stroke="#444" stroke-width="0.7" />
<path d="M683.5,842 L700,851.5 L698,855.5 L682,846.5 Q681.5,843.5 683.5,842 Z" fill="#fff" stroke="#000" stroke-width="1.2" />
<path d="M697,858 Q696.5,852.5 701,850.5 L709.5,847.5 Q712.5,847 714.5,848.5 L740,861.5 Q741.5,863.5 739.5,865.5 L723.5,879.5 Q721,881 718.5,879.5 L701.5,869 Q697.5,866 697,858 Z" fill="#fff" stroke="#000" stroke-width="1.6" />
<path d="M703,853 Q700.5,858 703.5,862.5 L709.5,858.5 Q710,853 713,850.5" fill="none" stroke="#000" stroke-width="1.1" />
<path d="M709.5,858.5 L725.0,868.0" fill="none" stroke="#000" stroke-width="0.7" />
<path d="M709.5,861.0 L714.5,855.5 L734.5,865.5 L722.0,876.0 L709.5,861.0" fill="none" stroke="#000" stroke-width="0.8" />
<line x1="711.5" y1="863.3" x2="720.0" y2="856.5" stroke="#222" stroke-width="0.7"/>
<line x1="714.5" y1="865.3" x2="723.1" y2="858.6" stroke="#222" stroke-width="0.7"/>
<line x1="717.5" y1="867.3" x2="726.2" y2="860.7" stroke="#222" stroke-width="0.7"/>
<line x1="720.5" y1="869.3" x2="729.3" y2="862.8" stroke="#222" stroke-width="0.7"/>
<line x1="723.5" y1="871.3" x2="732.4" y2="864.9" stroke="#222" stroke-width="0.7"/>
<line x1="714.0" y1="858.5" x2="716.5" y2="869.5" stroke="#222" stroke-width="0.7"/>
<line x1="718.8" y1="860.9" x2="721.3" y2="871.1" stroke="#222" stroke-width="0.7"/>
<line x1="723.6" y1="863.3" x2="726.1" y2="872.7" stroke="#222" stroke-width="0.7"/>
<line x1="620.0" y1="799.0" x2="629.0" y2="816.0" stroke="#000" stroke-width="1.3"/>
<line x1="664.5" y1="784.5" x2="669.5" y2="814.0" stroke="#000" stroke-width="1.3"/>
<line x1="714.0" y1="821.0" x2="711.0" y2="847.5" stroke="#000" stroke-width="1.3"/>
<circle cx="37.75" cy="27.9" r="15.9" fill="#fff" stroke="#000" stroke-width="1.5"/>
<text x="37.75" y="35.3" font-size="21" text-anchor="middle">A</text>
<rect x="407.5" y="43" width="30" height="30" fill="#fff" stroke="#ececec" stroke-width="1"/>
<circle cx="422" cy="57" r="12.6" fill="#fff" stroke="#000" stroke-width="1.5"/>
<text x="422" y="64.2" font-size="20" text-anchor="middle">2</text>
<rect x="128.8" y="186.0" width="29.5" height="29.5" fill="none" stroke="#f0f0f0" stroke-width="1"/>
<text transform="translate(143.0,208.4) scale(0.93,1)" x="0" y="0" font-size="22" text-anchor="middle">1</text>
<rect x="235.8" y="169.5" width="29.5" height="29.5" fill="none" stroke="#f0f0f0" stroke-width="1"/>
<text transform="translate(250.0,191.9) scale(0.93,1)" x="0" y="0" font-size="22" text-anchor="middle">29</text>
<rect x="283.8" y="181.0" width="29.5" height="29.5" fill="none" stroke="#f0f0f0" stroke-width="1"/>
<text transform="translate(298.0,203.4) scale(0.93,1)" x="0" y="0" font-size="22" text-anchor="middle">30</text>
<rect x="51.8" y="330.5" width="29.5" height="29.5" fill="none" stroke="#f0f0f0" stroke-width="1"/>
<text transform="translate(66.0,352.9) scale(0.93,1)" x="0" y="0" font-size="22" text-anchor="middle">10</text>
<rect x="87.8" y="348.5" width="29.5" height="29.5" fill="none" stroke="#f0f0f0" stroke-width="1"/>
<text transform="translate(102.0,370.9) scale(0.93,1)" x="0" y="0" font-size="22" text-anchor="middle">9</text>
<rect x="142.2" y="413.5" width="29.5" height="29.5" fill="none" stroke="#f0f0f0" stroke-width="1"/>
<text transform="translate(156.5,435.9) scale(0.93,1)" x="0" y="0" font-size="22" text-anchor="middle">8</text>
<rect x="128.8" y="448.5" width="29.5" height="29.5" fill="none" stroke="#f0f0f0" stroke-width="1"/>
<text transform="translate(143.0,470.9) scale(0.93,1)" x="0" y="0" font-size="22" text-anchor="middle">13</text>
<rect x="119.8" y="489.5" width="29.5" height="29.5" fill="none" stroke="#f0f0f0" stroke-width="1"/>
<text transform="translate(134.0,511.9) scale(0.93,1)" x="0" y="0" font-size="22" text-anchor="middle">12</text>
<rect x="113.2" y="530.5" width="29.5" height="29.5" fill="none" stroke="#f0f0f0" stroke-width="1"/>
<text transform="translate(127.5,552.9) scale(0.93,1)" x="0" y="0" font-size="22" text-anchor="middle">11</text>
<rect x="7.8" y="454.0" width="29.5" height="29.5" fill="none" stroke="#f0f0f0" stroke-width="1"/>
<text transform="translate(22.0,476.4) scale(0.93,1)" x="0" y="0" font-size="22" text-anchor="middle">7</text>
<rect x="242.8" y="431.5" width="29.5" height="29.5" fill="none" stroke="#f0f0f0" stroke-width="1"/>
<text transform="translate(257.0,453.9) scale(0.93,1)" x="0" y="0" font-size="22" text-anchor="middle">5</text>
<rect x="290.2" y="503.5" width="29.5" height="29.5" fill="none" stroke="#f0f0f0" stroke-width="1"/>
<text transform="translate(304.5,525.9) scale(0.93,1)" x="0" y="0" font-size="22" text-anchor="middle">4</text>
<rect x="238.8" y="511.5" width="29.5" height="29.5" fill="none" stroke="#f0f0f0" stroke-width="1"/>
<text transform="translate(253.0,533.9) scale(0.93,1)" x="0" y="0" font-size="22" text-anchor="middle">6</text>
<rect x="325.8" y="567.5" width="29.5" height="29.5" fill="none" stroke="#f0f0f0" stroke-width="1"/>
<text transform="translate(340.0,589.9) scale(0.93,1)" x="0" y="0" font-size="22" text-anchor="middle">20</text>
<rect x="365.2" y="581.5" width="29.5" height="29.5" fill="none" stroke="#f0f0f0" stroke-width="1"/>
<text transform="translate(379.5,603.9) scale(0.93,1)" x="0" y="0" font-size="22" text-anchor="middle">31</text>
<rect x="255.8" y="680.0" width="29.5" height="29.5" fill="none" stroke="#f0f0f0" stroke-width="1"/>
<text transform="translate(270.0,702.4) scale(0.93,1)" x="0" y="0" font-size="22" text-anchor="middle">31</text>
<rect x="147.8" y="866.5" width="29.5" height="29.5" fill="none" stroke="#f0f0f0" stroke-width="1"/>
<text transform="translate(162.0,888.9) scale(0.93,1)" x="0" y="0" font-size="22" text-anchor="middle">25</text>
<rect x="340.2" y="830.5" width="29.5" height="29.5" fill="none" stroke="#f0f0f0" stroke-width="1"/>
<text transform="translate(354.5,852.9) scale(0.93,1)" x="0" y="0" font-size="22" text-anchor="middle">24</text>
<rect x="788.8" y="89.0" width="29.5" height="29.5" fill="none" stroke="#f0f0f0" stroke-width="1"/>
<text transform="translate(803.0,111.4) scale(0.93,1)" x="0" y="0" font-size="22" text-anchor="middle">2-4</text>
<rect x="705.8" y="121.0" width="29.5" height="29.5" fill="none" stroke="#f0f0f0" stroke-width="1"/>
<text transform="translate(720.0,143.4) scale(0.93,1)" x="0" y="0" font-size="22" text-anchor="middle">2-5</text>
<rect x="769.2" y="203.5" width="29.5" height="29.5" fill="none" stroke="#f0f0f0" stroke-width="1"/>
<text transform="translate(783.5,225.9) scale(0.93,1)" x="0" y="0" font-size="22" text-anchor="middle">2-2</text>
<rect x="761.8" y="364.5" width="29.5" height="29.5" fill="none" stroke="#f0f0f0" stroke-width="1"/>
<text transform="translate(776.0,386.9) scale(0.93,1)" x="0" y="0" font-size="22" text-anchor="middle">26</text>
<rect x="804.8" y="356.5" width="29.5" height="29.5" fill="none" stroke="#f0f0f0" stroke-width="1"/>
<text transform="translate(819.0,378.9) scale(0.93,1)" x="0" y="0" font-size="22" text-anchor="middle">3</text>
<rect x="787.8" y="476.5" width="29.5" height="29.5" fill="none" stroke="#f0f0f0" stroke-width="1"/>
<text transform="translate(802.0,498.9) scale(0.93,1)" x="0" y="0" font-size="22" text-anchor="middle">5</text>
<rect x="721.8" y="651.5" width="29.5" height="29.5" fill="none" stroke="#f0f0f0" stroke-width="1"/>
<text transform="translate(736.0,673.9) scale(0.93,1)" x="0" y="0" font-size="22" text-anchor="middle">2-3</text>
<rect x="426.2" y="813.5" width="29.5" height="29.5" fill="none" stroke="#f0f0f0" stroke-width="1"/>
<text transform="translate(440.5,835.9) scale(0.93,1)" x="0" y="0" font-size="22" text-anchor="middle">19</text>
<rect x="488.8" y="836.0" width="29.5" height="29.5" fill="none" stroke="#f0f0f0" stroke-width="1"/>
<text transform="translate(503.0,858.4) scale(0.93,1)" x="0" y="0" font-size="22" text-anchor="middle">14</text>
<rect x="377.8" y="867.5" width="29.5" height="29.5" fill="none" stroke="#f0f0f0" stroke-width="1"/>
<text transform="translate(392.0,889.9) scale(0.93,1)" x="0" y="0" font-size="22" text-anchor="middle">18</text>
<rect x="390.8" y="896.0" width="29.5" height="29.5" fill="none" stroke="#f0f0f0" stroke-width="1"/>
<text transform="translate(405.0,918.4) scale(0.93,1)" x="0" y="0" font-size="22" text-anchor="middle">16</text>
<rect x="449.2" y="953.5" width="29.5" height="29.5" fill="none" stroke="#f0f0f0" stroke-width="1"/>
<text transform="translate(463.5,975.9) scale(0.93,1)" x="0" y="0" font-size="22" text-anchor="middle">15</text>
<rect x="595.8" y="772.0" width="29.5" height="29.5" fill="none" stroke="#f0f0f0" stroke-width="1"/>
<text transform="translate(610.0,794.4) scale(0.93,1)" x="0" y="0" font-size="22" text-anchor="middle">22</text>
<rect x="646.8" y="756.5" width="29.5" height="29.5" fill="none" stroke="#f0f0f0" stroke-width="1"/>
<text transform="translate(661.0,778.9) scale(0.93,1)" x="0" y="0" font-size="22" text-anchor="middle">17</text>
<rect x="699.8" y="795.5" width="29.5" height="29.5" fill="none" stroke="#f0f0f0" stroke-width="1"/>
<text transform="translate(714.0,817.9) scale(0.93,1)" x="0" y="0" font-size="22" text-anchor="middle">23</text>
<rect x="258.8" y="563.8" width="29.6" height="29.6" fill="#f9cfb0" stroke="#f0802c" stroke-width="1.8"/>
<text transform="translate(273.5,586.9) scale(0.93,1)" x="0" y="0" font-size="22" text-anchor="middle">21</text>
<rect x="445.5" y="445.5" width="45" height="40" fill="#fff" stroke="#1212c8" stroke-width="2"/>
<rect x="454" y="451" width="30" height="30" fill="#f9cfb0" stroke="#f0802c" stroke-width="1.8"/>
<text transform="translate(469.0,473.9) scale(0.93,1)" x="0" y="0" font-size="22" text-anchor="middle">2-1</text>
<text x="836.5" y="989" font-size="21.6" text-anchor="end">441912</text>
</svg>
</body></html>
